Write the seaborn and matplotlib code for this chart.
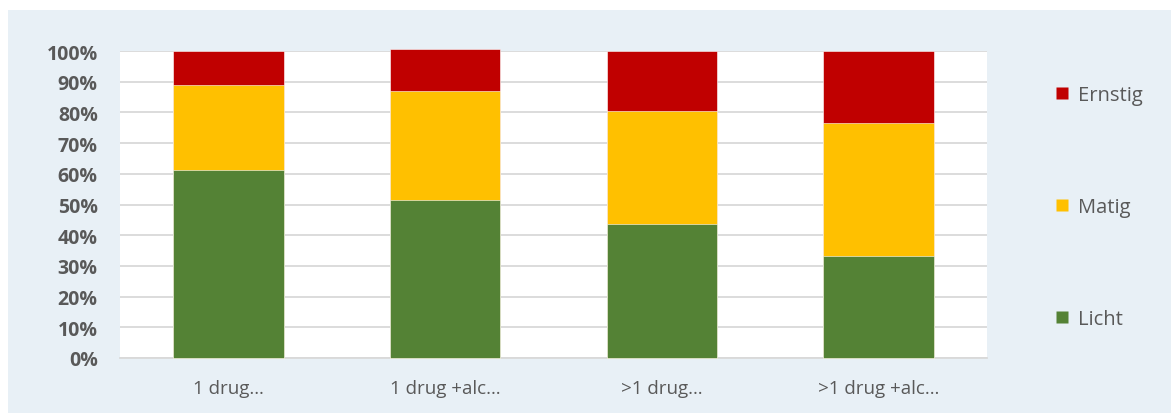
import matplotlib
matplotlib.use("Agg")
import matplotlib.pyplot as plt
from matplotlib.lines import Line2D
from matplotlib.patches import Rectangle
from matplotlib.ticker import FuncFormatter, MultipleLocator
import numpy as np
import pandas as pd
import seaborn as sns

categories = ["1 drug...", "1 drug +alc...", ">1 drug...", ">1 drug +alc..."]
licht = [61.2, 51.4, 43.7, 33.3]
matig = [27.8, 35.6, 36.9, 43.4]
ernstig = [11.0, 13.7, 19.4, 23.3]

series_names = ["Licht", "Matig", "Ernstig"]
series_colors = {"Licht": "#548235", "Matig": "#FFC000", "Ernstig": "#C00000"}
text_color = "#595959"
bg_color = "#E8F0F6"

sns.set_theme(style="white")
plt.rcParams["font.family"] = ["Open Sans", "DejaVu Sans"]

df = pd.DataFrame({"category": categories, "Licht": licht, "Matig": matig, "Ernstig": ernstig})
df["cum_Licht"] = df["Licht"]
df["cum_Matig"] = df["cum_Licht"] + df["Matig"]
df["cum_Ernstig"] = df["cum_Matig"] + df["Ernstig"]

W, H = 1171, 414
fig = plt.figure(figsize=(W / 100, H / 100), dpi=100)
fig.patch.set_facecolor("white")
fig.patches.append(Rectangle((8 / W, 0), 1 - 8 / W, 1 - 11 / H, transform=fig.transFigure,
                             facecolor=bg_color, edgecolor="none", zorder=-10))

ax = fig.add_axes([120 / W, 1 - 359 / H, (987 - 120) / W, (359 - 52) / H])
ax.set_facecolor("white")

# stacked bars: draw tallest cumulative first
for name in reversed(series_names):
    sns.barplot(data=df, x="category", y=f"cum_{name}", color=series_colors[name],
                width=0.51, saturation=1, edgecolor="white", linewidth=0.4, ax=ax, zorder=3)
for patch in ax.patches:
    patch.set_clip_on(False)

ax.set_ylim(0, 100)
ax.set_xlim(-0.5, 3.5)
ax.yaxis.set_major_locator(MultipleLocator(10))
ax.yaxis.set_major_formatter(FuncFormatter(lambda v, _: f"{v:.0f}%"))
ax.grid(axis="y", color="#D9D9D9", linewidth=1.3, zorder=0)
ax.set_axisbelow(True)
for side in ["top", "right", "left"]:
    ax.spines[side].set_visible(False)
ax.spines["bottom"].set_color("#D9D9D9")
ax.spines["bottom"].set_linewidth(1.3)
ax.set_xlabel("")
ax.set_ylabel("")
ax.tick_params(axis="both", length=0)
ax.tick_params(axis="y", pad=16, labelsize=14, labelcolor=text_color)
ax.tick_params(axis="x", pad=15, labelsize=13.5, labelcolor=text_color)
for lbl in ax.get_yticklabels():
    lbl.set_fontweight("bold")
ax.set_xticks(range(len(categories)))
ax.set_xticklabels([c.replace("...", "\u2026") for c in categories])

handles = [Line2D([], [], marker="s", linestyle="none", markersize=9,
                  markerfacecolor=series_colors[n], markeredgecolor="none", label=n)
           for n in reversed(series_names)]
fig.legend(handles=handles, loc="center left", bbox_to_anchor=(1055 / W, 1 - 208 / H),
           frameon=False, fontsize=14.5, labelcolor=text_color, labelspacing=4.55,
           handlelength=0.7, handletextpad=0.45, borderpad=0, borderaxespad=0)

fig.savefig("out.png", dpi=100)
